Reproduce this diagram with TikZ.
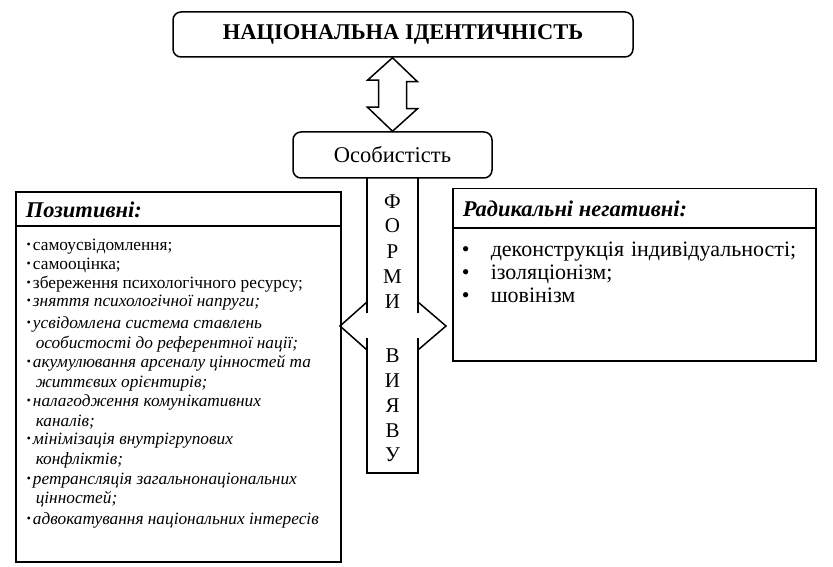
\documentclass[tikz,border=0pt]{standalone}
\usepackage{fontspec}
\setmainfont{Liberation Serif}
\usetikzlibrary{positioning}
\newcommand{\bul}{\raisebox{1.2pt}{\fontsize{12}{12}\selectfont•}\hspace{2pt}}

\begin{document}
\begin{tikzpicture}[x=1pt,y=-1pt,line width=1.5pt]
\tikzstyle{roundbox}=[draw=black,rounded corners=8pt,inner sep=0pt]
\tikzstyle{panel}=[draw=black,anchor=north west,inner sep=0pt,line width=2pt]
\tikzstyle{panelhead}=[anchor=base west,inner sep=0pt,font=\fontsize{22.5}{25}\selectfont\bfseries\itshape]
\tikzstyle{listitem}=[anchor=base west,inner sep=0pt,font=\fontsize{17.3}{19}\selectfont]
\tikzstyle{listitemi}=[listitem,font=\fontsize{17.3}{19}\selectfont\itshape]
\tikzstyle{negitem}=[anchor=base west,inner sep=0pt,font={\fontsize{22}{25}\selectfont\spaceskip=7pt\relax}]
\tikzstyle{letter}=[anchor=base,inner sep=0pt,font=\fontsize{21}{24}\selectfont]
\useasboundingbox (0,0) rectangle (833,567);
% top boxes
\node [roundbox,minimum width=460pt,minimum height=45pt,font=\fontsize{22.5}{25}\selectfont\bfseries] (nat) at (403,34.5) {НАЦІОНАЛЬНА ІДЕНТИЧНІСТЬ};
\node [roundbox,minimum width=199pt,minimum height=46pt,font=\fontsize{22.5}{25}\selectfont] (pers) at (392.5,155) {Особистість};
% double arrow
\draw (pers.north) -- ++(-25,-24) -- ++(11,0) -- ++(0,-27) -- ++(-11,0) -- (pers.north |- nat.south)
  -- ++(25,24) -- ++(-11,0) -- ++(0,27) -- ++(11,0) -- cycle;
% strip
\draw (367,178) -- (367,313);
\draw (367,338) -- (367,473) -- (418,473) -- (418,338);
\draw (418,313) -- (418,178);
\draw (367,302) -- (340,326) -- (367,350);
\draw (418,302) -- (446,326) -- (418,350);
\foreach \l/\y [count=\i] in {Ф/208,О/233,Р/258,М/283,И/308,В/362,И/387,Я/412,В/437,У/461}
  \node [letter] (f\i) at (392.5,\y) {\l};
% left panel
\node [panel,minimum width=325pt,minimum height=34pt] (poshead) at (15,191) {};
\node [panel,minimum width=325pt,minimum height=336pt] (posbody) at (15,225) {};
\node [panelhead] (postitle) at (25,217) {Позитивні:};
\node [listitem] (p1) at (26,250) {\bul самоусвідомлення;};
\node [listitem] (p2) at (26,269) {\bul самооцінка;};
\node [listitem] (p3) at (26,288) {\bul збереження психологічного ресурсу;};
\node [listitemi] (p4) at (26,306) {\bul зняття психологічної напруги;};
\node [listitemi] (p5) at (26,328) {\bul усвідомлена система ставлень};
\node [listitemi] (p5b) at (35,348) {особистості до референтної нації;};
\node [listitemi] (p6) at (26,367) {\bul акумулювання арсеналу цінностей та};
\node [listitemi] (p6b) at (35,387) {життєвих орієнтирів;};
\node [listitemi] (p7) at (26,406) {\bul налагодження комунікативних};
\node [listitemi] (p7b) at (35,426) {каналів;};
\node [listitemi] (p8) at (26,444) {\bul мінімізація внутрігрупових};
\node [listitemi] (p8b) at (35,464) {конфліктів;};
\node [listitemi] (p9) at (26,484) {\bul ретрансляція загальнонаціональних};
\node [listitemi] (p9b) at (35,503) {цінностей;};
\node [listitemi] (p10) at (26,524) {\bul адвокатування національних інтересів};
% right panel
\node [panel,line width=1.5pt,minimum width=363pt,minimum height=39pt] (neghead) at (452,188) {};
\node [panel,line width=1.5pt,minimum width=363pt,minimum height=133pt] (negbody) at (452,227) {};
\node [panelhead] (negtitle) at (462,216) {Радикальні негативні:};
\node [negitem] (n1) at (461,256) {\makebox[29pt][l]{•}деконструкція індивідуальності;};
\node [negitem] (n2) at (461,279) {\makebox[29pt][l]{•}ізоляціонізм;};
\node [negitem] (n3) at (461,302) {\makebox[29pt][l]{•}шовінізм};
\end{tikzpicture}
\end{document}
